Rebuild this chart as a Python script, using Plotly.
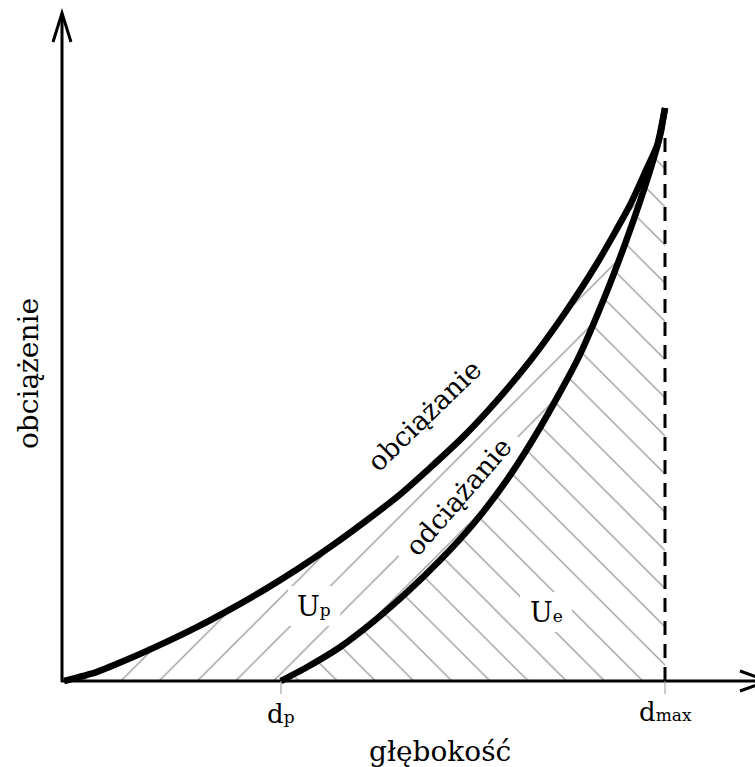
import math
import plotly.graph_objects as go

# ---- data (depth and load, dmax = 1, max load = 1) ----
load_depth = [0.0, 0.055, 0.111, 0.166, 0.221, 0.278, 0.333, 0.388, 0.443, 0.498,
              0.554, 0.609, 0.664, 0.720, 0.775, 0.830, 0.887, 0.942, 0.970, 0.987, 1.0]
load_force = [0.0, 0.016, 0.040, 0.066, 0.094, 0.126, 0.159, 0.195, 0.234, 0.276,
              0.321, 0.372, 0.426, 0.489, 0.558, 0.637, 0.729, 0.831, 0.895, 0.935, 1.0]
unload_depth = [0.361, 0.404, 0.459, 0.514, 0.571, 0.626, 0.681, 0.737, 0.792,
                0.854, 0.903, 0.937, 0.970, 0.992, 1.0]
unload_force = [0.0, 0.024, 0.059, 0.103, 0.155, 0.211, 0.274, 0.351, 0.442,
                0.560, 0.679, 0.773, 0.874, 0.953, 1.0]

curve_labels = ["obciążanie", "odciążanie"]
area_labels = ["U<span style='font-size:17px'>p</span>", "U<span style='font-size:17px'>e</span>"]
tick_labels = ["d<span style='font-size:17px'>p</span>", "d<span style='font-size:17px'>max</span>"]
x_title = "głębokość"
y_title = "obciążenie"

# ---- pixel <-> data helpers (plot area = whole 755x767 canvas) ----
W, H = 755, 767
X0, SX = 64, 601.0   # pixel of depth 0, pixels per unit depth
Y0, SY = 681, 573.0  # pixel of load 0, pixels per unit load


def dx(px):
    return (px - X0) / SX


def dy(py):
    return (Y0 - py) / SY


def white_box(cx, cy, angle_deg, half_len, half_h):
    """rotated rectangle (pixel geometry) returned in data coordinates"""
    a = math.radians(angle_deg)
    ux, uy = math.cos(a), -math.sin(a)      # along text (pixel coords, y down)
    nx, ny = math.sin(a), math.cos(a)       # normal
    pts = []
    for s, t in ((-1, -1), (1, -1), (1, 1), (-1, 1), (-1, -1)):
        px = cx + s * half_len * ux + t * half_h * nx
        py = cy + s * half_len * uy + t * half_h * ny
        pts.append((dx(px), dy(py)))
    return [p[0] for p in pts], [p[1] for p in pts]


FONT = "DejaVu Serif"
HATCH = "#333333"
fig = go.Figure()

dp = unload_depth[0]
dmax = load_depth[-1]

# hatched area U_p (between loading and unloading curves)
up_x = load_depth + unload_depth[::-1]
up_y = load_force + unload_force[::-1]
fig.add_trace(go.Scatter(
    x=up_x, y=up_y, mode="lines", fill="toself", line=dict(width=0, color="rgba(0,0,0,0)"),
    fillcolor="rgba(0,0,0,0)",
    fillpattern=dict(shape="/", size=27, solidity=0.05, fgcolor=HATCH,
                     bgcolor="rgba(0,0,0,0)"),
    hoverinfo="skip"))

# hatched area U_e (under unloading curve)
ue_x = unload_depth + [dmax]
ue_y = unload_force + [0.0]
fig.add_trace(go.Scatter(
    x=ue_x, y=ue_y, mode="lines", fill="toself", line=dict(width=0, color="rgba(0,0,0,0)"),
    fillcolor="rgba(0,0,0,0)",
    fillpattern=dict(shape="\\", size=27, solidity=0.05, fgcolor=HATCH,
                     bgcolor="rgba(0,0,0,0)"),
    hoverinfo="skip"))

# white gaps in the hatching behind the labels
LBL_OD = (458, 496, 49)
for (cx, cy, ang, hl, hh) in ((LBL_OD[0], LBL_OD[1], LBL_OD[2], 84, 17),
                              (314, 606, 0, 26, 20), (546, 612, 0, 26, 20)):
    bx, by = white_box(cx, cy, ang, hl, hh)
    fig.add_trace(go.Scatter(x=bx, y=by, mode="lines", fill="toself", fillcolor="white",
                             line=dict(width=0, color="white"), hoverinfo="skip"))

# dashed line at dmax
fig.add_trace(go.Scatter(
    x=[dmax, dmax], y=[0.0, dy(130)], mode="lines",
    line=dict(color="black", width=3, dash="14px,9px"), hoverinfo="skip"))

# curves
fig.add_trace(go.Scatter(x=load_depth, y=load_force, mode="lines",
                         line=dict(color="black", width=6.5, shape="spline", smoothing=0.6),
                         hoverinfo="skip"))
fig.add_trace(go.Scatter(x=unload_depth, y=unload_force, mode="lines",
                         line=dict(color="black", width=6.5, shape="spline", smoothing=0.6),
                         hoverinfo="skip"))

shapes = []
ax_line = dict(color="black", width=3)
# y axis with chevron
shapes.append(dict(type="line", xref="x", yref="y", x0=dx(62), y0=dy(682), x1=dx(62), y1=dy(14),
                   line=ax_line))
shapes.append(dict(type="path", xref="x", yref="y",
                   path=f"M{dx(53)},{dy(42)} L{dx(62)},{dy(13)} L{dx(71)},{dy(42)}",
                   line=ax_line))
# x axis with chevron
shapes.append(dict(type="line", xref="x", yref="y", x0=dx(61), y0=0, x1=dx(768), y1=0,
                   line=ax_line))
shapes.append(dict(type="path", xref="x", yref="y",
                   path=f"M{dx(740)},{dy(671)} L{dx(768)},{dy(681)} L{dx(740)},{dy(691)}",
                   line=ax_line))
# small ticks at dp and dmax
for t in (dp, dmax):
    shapes.append(dict(type="line", xref="x", yref="y", x0=t, y0=0, x1=t, y1=dy(694),
                       line=dict(color="#999999", width=1)))

ann = []
# curve labels
ann.append(dict(x=dx(424), y=dy(415), text=curve_labels[0], showarrow=False, textangle=-44,
                font=dict(family=FONT, size=27, color="black")))
ann.append(dict(x=dx(LBL_OD[0]), y=dy(LBL_OD[1]), text=curve_labels[1], showarrow=False,
                textangle=-LBL_OD[2], font=dict(family=FONT, size=27, color="black")))
# area labels
ann.append(dict(x=dx(314), y=dy(606), text=area_labels[0], showarrow=False,
                font=dict(family=FONT, size=27, color="black")))
ann.append(dict(x=dx(546), y=dy(612), text=area_labels[1], showarrow=False,
                font=dict(family=FONT, size=27, color="black")))
# tick labels
ann.append(dict(x=dp, y=dy(714), text=tick_labels[0], showarrow=False,
                font=dict(family=FONT, size=26, color="black")))
ann.append(dict(x=dmax, y=dy(712), text=tick_labels[1], showarrow=False,
                font=dict(family=FONT, size=26, color="black")))
# axis titles
ann.append(dict(x=dx(440), y=dy(751), text=x_title, showarrow=False,
                font=dict(family=FONT, size=28, color="black")))
ann.append(dict(x=dx(28), y=dy(374), text=y_title, showarrow=False, textangle=-90,
                font=dict(family=FONT, size=28, color="black")))

fig.update_layout(
    width=W, height=H, margin=dict(l=0, r=0, t=0, b=0),
    paper_bgcolor="white", plot_bgcolor="white", showlegend=False,
    xaxis=dict(range=[dx(0), dx(W)], visible=False, fixedrange=True),
    yaxis=dict(range=[dy(H), dy(0)], visible=False, fixedrange=True),
    shapes=shapes, annotations=ann,
)

fig.write_html("out.html")
